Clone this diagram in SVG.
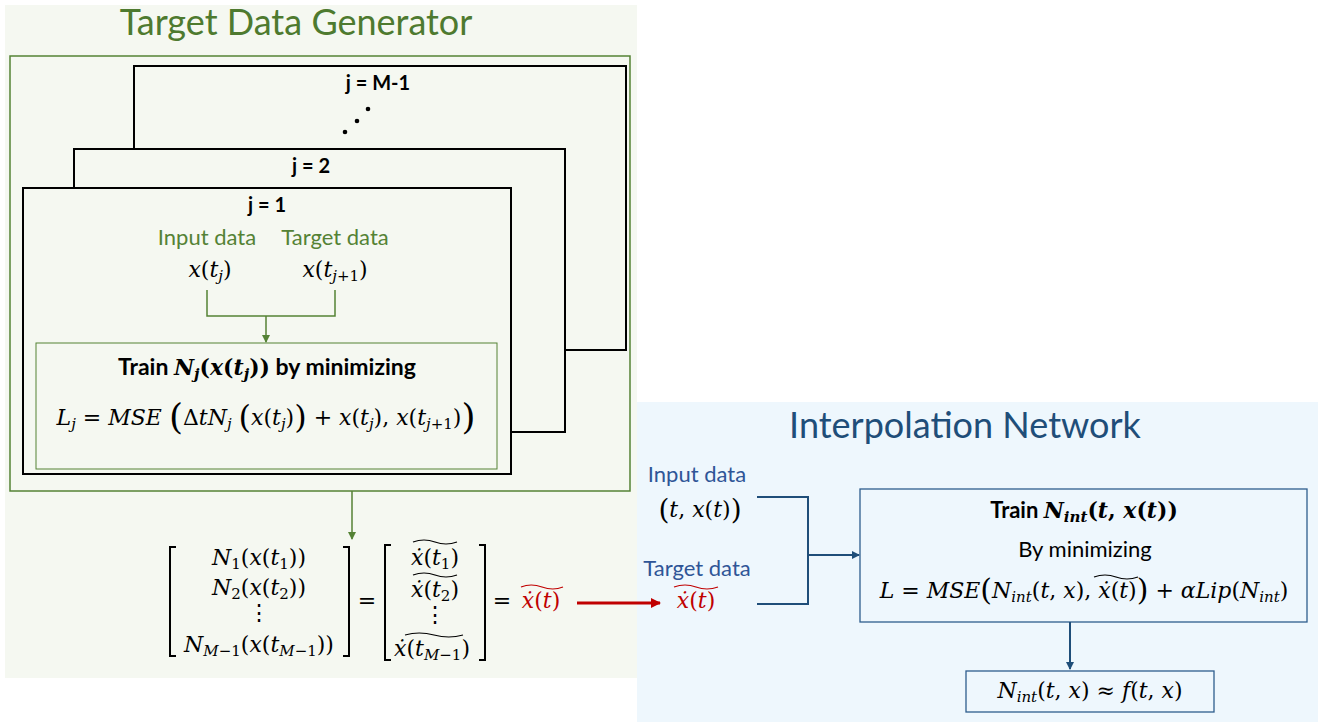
<svg xmlns="http://www.w3.org/2000/svg" width="1323" height="725" viewBox="0 0 1323 725">
<defs>
<style>
.t{font-family:Lato,"Open Sans",sans-serif}
.b{font-family:Lato,"Open Sans",sans-serif;font-weight:bold;fill:#000}
.m{font-family:"DejaVu Serif","Liberation Serif",serif;font-size:22px;fill:#000}
.i{font-style:italic}
.bi{font-style:italic;font-weight:bold}
.s{font-size:15px}
.g{fill:#548235}
.bl{fill:#2F5597}
.r{fill:#C00000}
.box{fill:none;stroke:#000;stroke-width:2}
.gl{fill:none;stroke:#548235;stroke-width:1.5}
.bln{fill:none;stroke:#1F4E79;stroke-width:2}
.tl{fill:none;stroke-width:1.2}
</style>
<marker id="ag" markerWidth="8" markerHeight="8" refX="7" refY="4" orient="auto" markerUnits="userSpaceOnUse"><path d="M0,0 L8,4 L0,8 z" fill="#548235"/></marker>
<marker id="ab" markerWidth="8" markerHeight="8" refX="7" refY="4" orient="auto" markerUnits="userSpaceOnUse"><path d="M0,0 L8,4 L0,8 z" fill="#1F4E79"/></marker>
<marker id="ar" markerWidth="10" markerHeight="10" refX="9" refY="5" orient="auto" markerUnits="userSpaceOnUse"><path d="M0,0 L10,5 L0,10 z" fill="#C00000"/></marker>
</defs>
<rect width="1323" height="725" fill="#fff"/>
<rect id="panel-green" x="5" y="5" width="632" height="673" fill="#F5F8F1"/>
<rect id="panel-blue" x="637" y="402" width="681" height="320" fill="#EEF7FD"/>

<g id="title-tdg"><text class="t" x="296" y="35" font-size="36" text-anchor="middle" fill="#4E7A2F">Target Data Generator</text></g>
<g id="outer-green"><rect x="10" y="56" width="620" height="435" class="gl" stroke-width="1"/></g>

<g id="box-M1">
<path class="box" d="M134,149 V66 H626 V350 H565"/>
<text class="b" x="378" y="90" font-size="20" text-anchor="middle">j = M-1</text>
<circle cx="368" cy="109" r="2.3"/><circle cx="357" cy="121" r="2.3"/><circle cx="345" cy="132" r="2.3"/>
</g>
<g id="box-j2">
<path class="box" d="M74,188 V149 H565 V432 H511"/>
<text class="b" x="311" y="173" font-size="20" text-anchor="middle">j = 2</text>
</g>
<g id="box-j1">
<rect x="23" y="188" width="488" height="286" class="box" fill="#F5F8F1"/>
<text class="b" x="267" y="212" font-size="20" text-anchor="middle">j = 1</text>
<text class="t g" x="207" y="245" font-size="22" text-anchor="middle">Input data</text>
<text class="t g" x="335" y="245" font-size="22" text-anchor="middle">Target data</text>
<text class="m" x="210" y="277" text-anchor="middle"><tspan class="i">x</tspan>(<tspan class="i">t</tspan><tspan class="s i" dy="4">j</tspan><tspan dy="-4">)</tspan></text>
<text class="m" x="335" y="277" text-anchor="middle"><tspan class="i">x</tspan>(<tspan class="i">t</tspan><tspan class="s" dy="4"><tspan class="i">j</tspan>+1</tspan><tspan dy="-4">)</tspan></text>
</g>
<g id="train-j">
<rect x="36" y="343" width="461" height="126" fill="none" stroke="#548235" stroke-width="1"/>
<text class="b" x="267" y="375" font-size="23" text-anchor="middle">Train <tspan class="m bi" font-size="23">N</tspan><tspan class="m bi s" dy="4">j</tspan><tspan class="m" dy="-4" font-size="29">(</tspan><tspan class="m bi" font-size="23">x</tspan><tspan class="m" font-weight="bold" font-size="23">(</tspan><tspan class="m bi" font-size="23">t</tspan><tspan class="m bi s" dy="4">j</tspan><tspan class="m" dy="-4" font-weight="bold" font-size="23">)</tspan><tspan class="m" font-size="29">)</tspan> by minimizing</text>
<text class="m" x="266" y="425" text-anchor="middle" font-size="22.5"><tspan class="i">L</tspan><tspan class="s i" dy="4">j</tspan><tspan dy="-4"> = </tspan><tspan class="i">MSE</tspan> <tspan font-size="36" dy="4">(</tspan><tspan dy="-4">Δ</tspan><tspan class="i">tN</tspan><tspan class="s i" dy="4">j</tspan><tspan dy="-4"> </tspan><tspan font-size="32" dy="3">(</tspan><tspan class="i" dy="-3">x</tspan>(<tspan class="i">t</tspan><tspan class="s i" dy="4">j</tspan><tspan dy="-4">)</tspan><tspan font-size="32" dy="3">)</tspan><tspan dy="-3"> + </tspan><tspan class="i">x</tspan>(<tspan class="i">t</tspan><tspan class="s i" dy="4">j</tspan><tspan dy="-4">), </tspan><tspan class="i">x</tspan>(<tspan class="i">t</tspan><tspan class="s" dy="4"><tspan class="i">j</tspan>+1</tspan><tspan dy="-4">)</tspan><tspan font-size="36" dy="4">)</tspan></text>
</g>

<g id="matrix-N">
<path class="box" stroke-width="1.5" d="M176,547 H170 V656 H176 M343,547 H349 V656 H343"/>
<text class="m" x="259" y="565" text-anchor="middle"><tspan class="i">N</tspan><tspan class="s" dy="4">1</tspan><tspan dy="-4">(</tspan><tspan class="i">x</tspan>(<tspan class="i">t</tspan><tspan class="s" dy="4">1</tspan><tspan dy="-4">))</tspan></text>
<text class="m" x="259" y="595" text-anchor="middle"><tspan class="i">N</tspan><tspan class="s" dy="4">2</tspan><tspan dy="-4">(</tspan><tspan class="i">x</tspan>(<tspan class="i">t</tspan><tspan class="s" dy="4">2</tspan><tspan dy="-4">))</tspan></text>
<text class="m" x="259" y="620" text-anchor="middle">⋮</text>
<text class="m" x="259" y="652" text-anchor="middle"><tspan class="i">N</tspan><tspan class="s" dy="4"><tspan class="i">M</tspan>−1</tspan><tspan dy="-4">(</tspan><tspan class="i">x</tspan>(<tspan class="i">t</tspan><tspan class="s" dy="4"><tspan class="i">M</tspan>−1</tspan><tspan dy="-4">))</tspan></text>
<text class="m" x="367" y="608" text-anchor="middle">=</text>
</g>
<g id="matrix-xdot">
<path class="box" stroke-width="1.5" d="M391,545 H385 V660 H391 M479,545 H485 V660 H479"/>
<text class="m" x="435" y="565" text-anchor="middle"><tspan class="i">ẋ</tspan>(<tspan class="i">t</tspan><tspan class="s" dy="4">1</tspan><tspan dy="-4">)</tspan></text>
<text class="m" x="435" y="597" text-anchor="middle"><tspan class="i">ẋ</tspan>(<tspan class="i">t</tspan><tspan class="s" dy="4">2</tspan><tspan dy="-4">)</tspan></text>
<text class="m" x="435" y="622" text-anchor="middle">⋮</text>
<text class="m" x="432" y="656" text-anchor="middle"><tspan class="i">ẋ</tspan>(<tspan class="i">t</tspan><tspan class="s" dy="4"><tspan class="i">M</tspan>−1</tspan><tspan dy="-4">)</tspan></text>
<path class="tl" stroke="#000" d="M413,542 q11,-4 22,0 t22,0 M413,575 q11,-4 22,0 t22,0 M405,635 q14,-4 29,0 t29,0"/>
<text class="m" x="502" y="608" text-anchor="middle">=</text>
<text class="m r" x="541" y="608" text-anchor="middle"><tspan class="i">ẋ</tspan>(<tspan class="i">t</tspan>)</text>
<path class="tl" stroke="#C00000" d="M521,587 q10,-4 21,0 t21,0"/>
</g>

<g id="title-in"><text class="t" x="965" y="438" font-size="36" text-anchor="middle" fill="#1F4E79">Interpolation Network</text></g>
<g id="input-int">
<text class="t bl" x="697" y="482" font-size="22" text-anchor="middle">Input data</text>
<text class="m" x="700" y="517" text-anchor="middle"><tspan font-size="28" dy="2">(</tspan><tspan class="i" dy="-2">t</tspan>, <tspan class="i">x</tspan>(<tspan class="i">t</tspan>)<tspan font-size="28" dy="2">)</tspan></text>
</g>
<g id="target-int">
<text class="t bl" x="697" y="576" font-size="22" text-anchor="middle">Target data</text>
<text class="m r" x="696" y="608" text-anchor="middle"><tspan class="i">ẋ</tspan>(<tspan class="i">t</tspan>)</text>
<path class="tl" stroke="#C00000" d="M674,587 q11,-4 22,0 t22,0"/>
</g>
<g id="train-int">
<rect x="860" y="489" width="447" height="133" fill="none" stroke="#2E5E8E" stroke-width="1.3"/>
<text class="b" x="1084" y="518" font-size="22" text-anchor="middle">Train <tspan class="m bi">N</tspan><tspan class="m bi s" dy="4">int</tspan><tspan class="m" dy="-4">(</tspan><tspan class="m bi">t</tspan><tspan class="m" font-weight="bold">, </tspan><tspan class="m bi">x</tspan><tspan class="m" font-weight="bold">(</tspan><tspan class="m bi">t</tspan><tspan class="m">))</tspan></text>
<text class="t" x="1085" y="557" font-size="22" text-anchor="middle">By minimizing</text>
<text class="m" x="1084" y="598" text-anchor="middle"><tspan class="i">L</tspan> = <tspan class="i">MSE</tspan><tspan font-size="30" dy="2">(</tspan><tspan class="i" dy="-2">N</tspan><tspan class="s i" dy="4">int</tspan><tspan dy="-4">(</tspan><tspan class="i">t</tspan>, <tspan class="i">x</tspan>), <tspan class="i">ẋ</tspan>(<tspan class="i">t</tspan>)<tspan font-size="30" dy="2">)</tspan><tspan dy="-2"> + </tspan><tspan class="i">αLip</tspan>(<tspan class="i">N</tspan><tspan class="s i" dy="4">int</tspan><tspan dy="-4">)</tspan></text>
<path class="tl" stroke="#000" d="M1094,577 q11,-4 22,0 t22,0"/>
</g>
<g id="result">
<rect x="966" y="671" width="248" height="41" fill="none" stroke="#2E5E8E" stroke-width="1.3"/>
<text class="m" x="1090" y="698" text-anchor="middle"><tspan class="i">N</tspan><tspan class="s i" dy="4">int</tspan><tspan dy="-4">(</tspan><tspan class="i">t</tspan>, <tspan class="i">x</tspan>)  ≈ <tspan class="i">f</tspan>(<tspan class="i">t</tspan>, <tspan class="i">x</tspan>)</text>
</g>

<g id="connectors">
<path class="gl" d="M207,290 V316 H335 V290"/>
<path class="gl" d="M266,316 V342" marker-end="url(#ag)"/>
<path class="gl" d="M352,491 V539" marker-end="url(#ag)"/>
<path d="M577,603 H660" fill="none" stroke="#C00000" stroke-width="3" marker-end="url(#ar)"/>
<path class="bln" d="M757,497 H808 V604 H757"/>
<path class="bln" d="M808,555 H859" marker-end="url(#ab)"/>
<path class="bln" d="M1070,622 V669" marker-end="url(#ab)"/>
</g>
</svg>
